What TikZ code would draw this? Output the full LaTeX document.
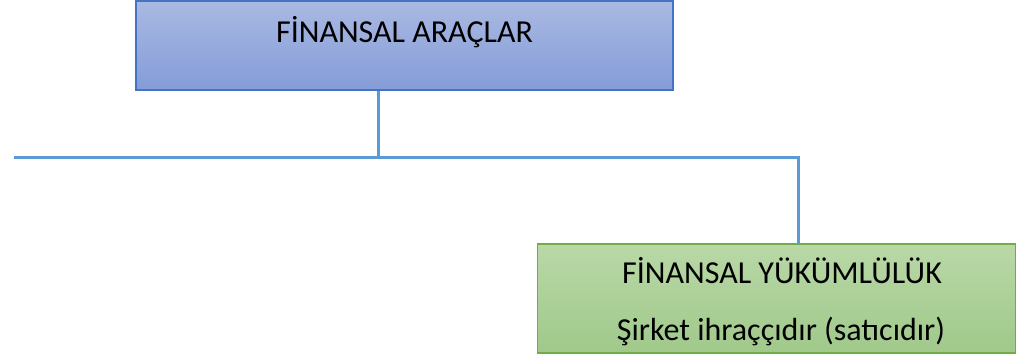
\documentclass[tikz,border=0pt]{standalone}
\usepackage{fontspec}
\setmainfont{Carlito}
\definecolor{bluetop}{RGB}{170,185,226}
\definecolor{bluebot}{RGB}{132,156,216}
\definecolor{blueedge}{RGB}{68,114,196}
\definecolor{greentop}{RGB}{185,216,166}
\definecolor{greenbot}{RGB}{160,201,139}
\definecolor{greenedge}{RGB}{112,173,71}
\definecolor{linkblue}{RGB}{91,155,213}
\tikzset{
  topbox/.style={rectangle, draw=blueedge, line width=2.5pt, top color=bluetop, bottom color=bluebot, inner sep=0pt},
  botbox/.style={rectangle, draw=greenedge, line width=1.5pt, top color=greentop, bottom color=greenbot, inner sep=0pt},
  lbl/.style={anchor=base, inner sep=0pt, font=\fontsize{32}{38}\selectfont, text=black},
  link/.style={draw=linkblue, line width=3pt}
}
\begin{document}
\begin{tikzpicture}[x=1pt,y=-1pt]
\useasboundingbox (0,0) rectangle (1017,360);
\node[topbox, minimum width=537pt, minimum height=89pt] (top) at (404.5,45.5) {};
\node[botbox, minimum width=478pt, minimum height=109pt] (bot) at (776.5,298.5) {};
\node[lbl] (toptext) at (404.5,42) {FİNANSAL ARAÇLAR};
\node[lbl] (bottext1) at (782,283) {FİNANSAL YÜKÜMLÜLÜK};
\node[lbl] (bottext2) at (781,340) {Şirket ihraççıdır (satıcıdır)};
\coordinate (j) at (378,157);
\coordinate (l) at (14,157);
\coordinate (k) at (798,157);
\draw[link] (top.south -| j) -- (j);
\draw[link] (l) -- (k) -- (k |- bot.north);
\end{tikzpicture}
\end{document}
